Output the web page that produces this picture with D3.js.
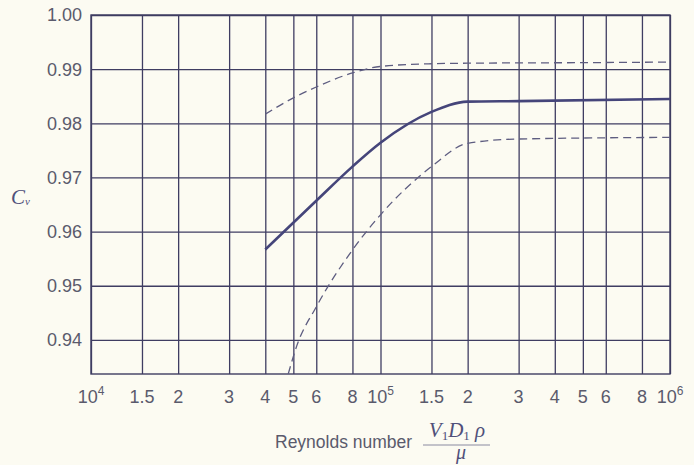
<!DOCTYPE html>
<html><head><meta charset="utf-8">
<script src="https://cdn.jsdelivr.net/npm/d3@7"></script>
<style>html,body{margin:0;padding:0;background:#fcfbf2;} svg{display:block}</style>
</head><body><svg id="c" width="694" height="465"></svg>
<script>
// ---- data ----
const xTickValues = [1e4,1.5e4,2e4,3e4,4e4,5e4,6e4,8e4,1e5,1.5e5,2e5,3e5,4e5,5e5,6e5,8e5,1e6];
const xTickLabels = ["10^4","1.5","2","3","4","5","6","8","10^5","1.5","2","3","4","5","6","8","10^6"];
const yTickValues = [0.94,0.95,0.96,0.97,0.98,0.99,1.00];
const yTickLabels = ["0.94","0.95","0.96","0.97","0.98","0.99","1.00"];

const solidRe = [4e4,6e4,8e4,1e5,1.5e5,2e5,3e5,1e6];
const solidCv = [0.9567,0.9657,0.9720,0.9764,0.9821,0.9840,0.9841,0.9845];

const upperRe = [4e4,5e4,6e4,8e4,1e5,1.5e5,2e5,5e5,1e6];
const upperCv = [0.9817,0.9847,0.9867,0.9893,0.9905,0.9910,0.9911,0.9912,0.9913];

const lowerRe = [4.8e4,5.13e4,6e4,8e4,1e5,1.5e5,2e5,3e5,1e6];
const lowerCv = [0.9337,0.9388,0.9461,0.9566,0.9631,0.9720,0.9763,0.9771,0.9774];

// ---- layout ----
const W = 694, H = 465;
const m = {left:91, top:15, right:24, bottom:91};
const iw = W - m.left - m.right, ih = H - m.top - m.bottom;
const gridColor = "#3f3d62", textColor = "#5a5a6c";

const svg = d3.select("#c");
svg.append("rect").attr("width",W).attr("height",H).attr("fill","#fcfbf2");
const g = svg.append("g").attr("transform",`translate(${m.left},${m.top})`);

const x = d3.scaleLog().domain([1e4,1e6]).range([0,iw]);
const y = d3.scaleLinear().domain([0.9337,1.0]).range([ih,0]);

// grid
const gx = g.append("g").attr("transform",`translate(0,${ih})`)
  .call(d3.axisBottom(x).tickValues(xTickValues).tickSize(-ih).tickFormat(""));
const gy = g.append("g")
  .call(d3.axisLeft(y).tickValues(yTickValues).tickSize(-iw).tickFormat(""));
[gx,gy].forEach(a=>{
  a.selectAll(".tick line").attr("stroke",gridColor).attr("stroke-width",1.3);
  a.select(".domain").remove();
});
g.append("rect").attr("width",iw).attr("height",ih).attr("fill","none")
  .attr("stroke",gridColor).attr("stroke-width",1.4);

// y tick labels
g.selectAll(".ylab").data(yTickValues).enter().append("text")
  .attr("x",-9).attr("y",d=>y(d)).attr("dy","0.36em")
  .attr("text-anchor","end").attr("font-family","Liberation Sans, Arial, sans-serif")
  .attr("font-size",18).attr("fill",textColor)
  .text((d,i)=>yTickLabels[i]);

// x tick labels
xTickValues.forEach((v,i)=>{
  const lab = xTickLabels[i];
  const t = g.append("text").attr("x",x(v)).attr("y",ih+29)
    .attr("text-anchor","middle").attr("font-family","Liberation Sans, Arial, sans-serif")
    .attr("font-size",18).attr("fill",textColor);
  if (lab.includes("^")) {
    const [b,e] = lab.split("^");
    t.append("tspan").text(b);
    t.append("tspan").attr("font-size",12).attr("dy",-8).text(e);
  } else t.text(lab);
});

// curves
g.append("clipPath").attr("id","clip").append("rect").attr("width",iw).attr("height",ih);
const line = d3.line().x(d=>x(d[0])).y(d=>y(d[1])).curve(d3.curveMonotoneX);
const curves = g.append("g").attr("clip-path","url(#clip)");
curves.append("path").datum(upperRe.map((r,i)=>[r,upperCv[i]])).attr("d",line)
  .attr("fill","none").attr("stroke","#5e5d80").attr("stroke-width",1.3).attr("stroke-dasharray","8,5");
curves.append("path").datum(lowerRe.map((r,i)=>[r,lowerCv[i]])).attr("d",line)
  .attr("fill","none").attr("stroke","#5e5d80").attr("stroke-width",1.3).attr("stroke-dasharray","8,5");
curves.append("path").datum(solidRe.map((r,i)=>[r,solidCv[i]])).attr("d",line)
  .attr("fill","none").attr("stroke","#45457a").attr("stroke-width",2.6);

// y axis label C_v
const yl = svg.append("text").attr("x",11).attr("y",204)
  .attr("font-family","Liberation Serif, Times New Roman, serif").attr("font-style","italic")
  .attr("font-size",21).attr("fill","#50507a");
yl.append("tspan").text("C");
yl.append("tspan").attr("font-size",11).attr("dy",1).text("v");

// x axis title
svg.append("text").attr("x",275).attr("y",448)
  .attr("font-family","Liberation Sans, Arial, sans-serif").attr("font-size",17.5)
  .attr("fill",textColor).text("Reynolds number");
const num = svg.append("text").attr("x",457).attr("y",437).attr("text-anchor","middle")
  .attr("font-family","Liberation Serif, Times New Roman, serif").attr("font-style","italic")
  .attr("font-size",21).attr("fill","#50507a");
num.append("tspan").text("V");
num.append("tspan").attr("font-size",13).attr("font-style","normal").attr("dy",3).text("1");
num.append("tspan").attr("dy",-3).text("D");
num.append("tspan").attr("font-size",13).attr("font-style","normal").attr("dy",3).text("1");
num.append("tspan").attr("dy",-3).text(" ρ");
svg.append("line").attr("x1",423).attr("x2",490).attr("y1",445).attr("y2",445)
  .attr("stroke","#8a8aa0").attr("stroke-width",1);
svg.append("text").attr("x",461).attr("y",459).attr("text-anchor","middle")
  .attr("font-family","Liberation Serif, Times New Roman, serif").attr("font-style","italic")
  .attr("font-size",20).attr("fill","#50507a").text("μ");
</script></body></html>
